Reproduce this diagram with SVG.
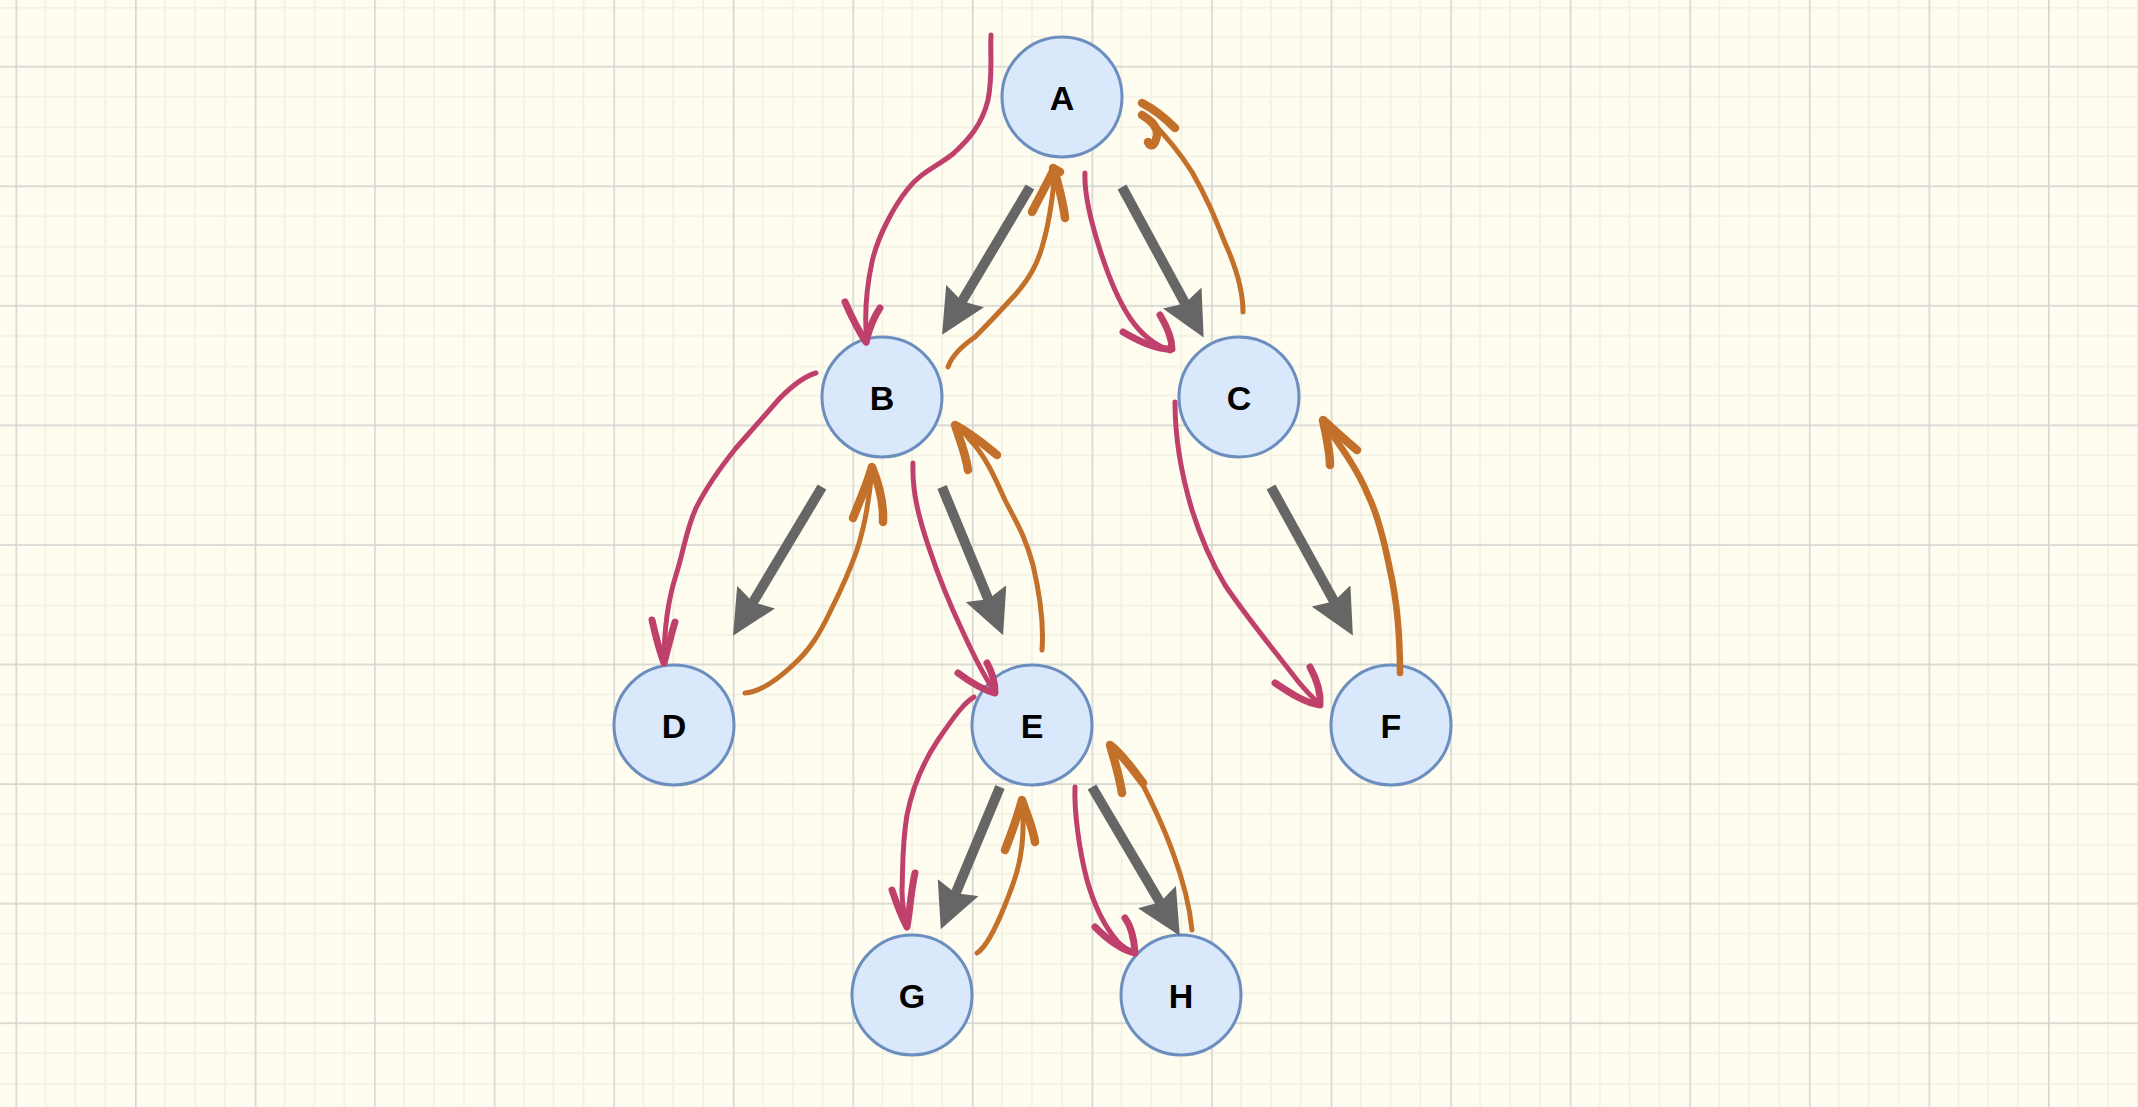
<svg xmlns="http://www.w3.org/2000/svg" width="2138" height="1107" viewBox="0 0 2138 1107">
<defs>
<style>
.node circle{fill:#dae8fc;stroke:#6c8ebf;stroke-width:3}
.node text{font-family:"Liberation Sans",Arial,sans-serif;font-weight:bold;font-size:34px;fill:#000;text-anchor:middle;dominant-baseline:central}
.tree{stroke:#666666;stroke-width:10;fill:none;marker-end:url(#head)}
.pre{stroke:#c0406c;stroke-width:5;fill:none;stroke-linecap:round;stroke-linejoin:round}
.preh{stroke:#c0406c;stroke-width:7;fill:none;stroke-linecap:round;stroke-linejoin:round}
.ret{stroke:#c2702a;stroke-width:5;fill:none;stroke-linecap:round;stroke-linejoin:round}
.reth{stroke:#c2702a;stroke-width:8.5;fill:none;stroke-linecap:round;stroke-linejoin:round}
</style>
<marker id="head" viewBox="0 0 4.5 4.4" refX="0.8" refY="2.2" markerWidth="4.5" markerHeight="4.4" orient="auto">
<path d="M0,0 L4.5,2.2 L0,4.4 L0.6,2.2 Z" fill="#666666"/>
</marker>
<pattern id="grid" patternUnits="userSpaceOnUse" x="15.5" y="6.9" width="119.56" height="119.56">
<g fill="#f3f1e2">
<rect x="0" y="0" width="1.6" height="119.56"/>
<rect x="29.1" y="0" width="1.8" height="119.56"/>
<rect x="59" y="0" width="1.8" height="119.56"/>
<rect x="88.9" y="0" width="1.8" height="119.56"/>
<rect x="0" y="0" width="119.56" height="1.6"/>
<rect x="0" y="29.1" width="119.56" height="1.8"/>
<rect x="0" y="59" width="119.56" height="1.8"/>
<rect x="0" y="88.9" width="119.56" height="1.8"/>
</g>
<g fill="#d4d4d2">
<rect x="0" y="0" width="1.5" height="119.56"/>
<rect x="0" y="59.1" width="119.56" height="1.5"/>
</g>
</pattern>
</defs>
<rect width="2138" height="1107" fill="#fffdf0"/>
<rect width="2138" height="1107" fill="url(#grid)"/>

<g id="node-A" class="node"><circle cx="1062" cy="97" r="60"/><text x="1062" y="98">A</text></g>
<g id="node-B" class="node"><circle cx="882" cy="397" r="60"/><text x="882" y="398">B</text></g>
<g id="node-C" class="node"><circle cx="1239" cy="397" r="60"/><text x="1239" y="398">C</text></g>
<g id="node-D" class="node"><circle cx="674" cy="725" r="60"/><text x="674" y="726">D</text></g>
<g id="node-E" class="node"><circle cx="1032" cy="725" r="60"/><text x="1032" y="726">E</text></g>
<g id="node-F" class="node"><circle cx="1391" cy="725" r="60"/><text x="1391" y="726">F</text></g>
<g id="node-G" class="node"><circle cx="912" cy="995" r="60"/><text x="912" y="996">G</text></g>
<g id="node-H" class="node"><circle cx="1181" cy="995" r="60"/><text x="1181" y="996">H</text></g>

<g id="connectors">
<g id="tree-edges">
<line class="tree" x1="1030" y1="187" x2="961" y2="303"/>
<line class="tree" x1="1122" y1="187" x2="1186" y2="305"/>
<line class="tree" x1="822" y1="487" x2="752" y2="604"/>
<line class="tree" x1="942" y1="487" x2="989" y2="601"/>
<line class="tree" x1="1271" y1="487" x2="1335" y2="603"/>
<line class="tree" x1="1000" y1="787" x2="955" y2="895"/>
<line class="tree" x1="1092" y1="787" x2="1161" y2="904"/>
</g>
<g id="visit-down">
<path class="pre" d="M991,35 C990,55 993,75 988,100 C982,125 968,140 954,153 C940,165 920,172 907,190 C895,205 878,235 872,262 C866,290 864,315 867,343"/>
<path class="preh" d="M845,302 C852,318 860,333 866,342 C869,330 873,318 880,308"/>
<path class="pre" d="M816,373 C805,376 795,383 780,398 C765,415 750,432 736,448 C720,468 705,490 696,508 C686,530 684,550 676,575 C668,600 664,625 664,663"/>
<path class="preh" d="M652,620 C656,638 660,652 664,663 C668,648 671,635 675,622"/>
<path class="pre" d="M1085,173 C1084,195 1092,225 1100,250 C1108,275 1118,300 1130,318 C1140,333 1155,345 1170,351"/>
<path class="preh" d="M1123,332 C1140,342 1158,350 1172,349 C1172,338 1166,325 1160,315"/>
<path class="pre" d="M913,463 C912,490 918,515 928,545 C938,575 950,605 962,630 C972,652 983,675 995,692"/>
<path class="preh" d="M958,673 C970,682 983,690 995,693 C995,682 992,672 987,663"/>
<path class="pre" d="M974,697 C965,702 955,715 938,740 C922,764 912,790 907,815 C902,845 903,865 902,890 C902,905 904,915 907,925"/>
<path class="preh" d="M892,890 C897,905 902,918 907,927 C910,910 911,890 915,873"/>
<path class="pre" d="M1075,787 C1074,810 1079,850 1087,880 C1094,905 1103,925 1118,942 C1124,948 1130,951 1135,953"/>
<path class="preh" d="M1095,927 C1108,940 1122,950 1135,953 C1134,938 1131,926 1125,918"/>
<path class="pre" d="M1175,402 C1175,430 1180,470 1192,510 C1203,545 1213,565 1225,585 C1245,615 1270,645 1297,680 C1305,690 1313,698 1320,705"/>
<path class="preh" d="M1275,683 C1290,693 1305,703 1320,705 C1321,692 1316,678 1310,667"/>
</g>
<g id="visit-up">
<path class="ret" d="M948,367 C952,355 962,346 975,337 C990,322 1003,308 1015,295 C1028,280 1038,265 1044,240 C1050,218 1053,195 1055,170"/>
<path class="reth" d="M1032,212 C1040,196 1048,182 1054,169 C1058,185 1063,200 1065,218 M1053,168 L1060,172"/>
<path class="ret" d="M1243,312 C1243,290 1235,265 1225,243 C1215,218 1208,200 1192,172 C1178,150 1165,135 1150,120"/>
<path class="reth" d="M1175,128 C1165,118 1152,108 1142,103 M1142,115 C1150,120 1158,126 1157,135 C1156,142 1152,150 1148,142"/>
<path class="ret" d="M745,693 C758,692 775,682 793,665 C810,650 820,633 830,612 C840,592 850,570 857,550 C865,525 870,495 872,467"/>
<path class="reth" d="M853,518 C860,500 867,485 872,467 C878,482 884,500 883,522"/>
<path class="ret" d="M1042,650 C1044,625 1040,595 1033,565 C1025,535 1015,520 1005,500 C995,478 985,455 970,440 C965,433 960,428 955,425"/>
<path class="reth" d="M997,455 C985,445 968,432 955,425 C960,440 966,455 968,470"/>
<path class="ret" style="stroke-width:6.5" d="M1400,673 C1400,640 1398,605 1390,570 C1384,540 1378,515 1368,495 C1358,470 1340,445 1323,422"/>
<path class="reth" d="M1357,450 C1345,440 1332,428 1323,420 C1326,435 1330,450 1330,465"/>
<path class="ret" d="M977,953 C985,948 995,930 1005,905 C1015,880 1020,865 1022,845 C1024,825 1023,810 1022,800"/>
<path class="reth" d="M1005,850 C1012,832 1018,815 1022,800 C1027,815 1033,828 1035,842"/>
<path class="ret" d="M1192,930 C1190,910 1183,880 1173,853 C1163,825 1150,798 1135,770 C1128,760 1118,752 1110,747"/>
<path class="reth" d="M1143,783 C1132,768 1120,752 1110,745 C1116,765 1120,780 1122,793"/>
</g>
</g>
</svg>
